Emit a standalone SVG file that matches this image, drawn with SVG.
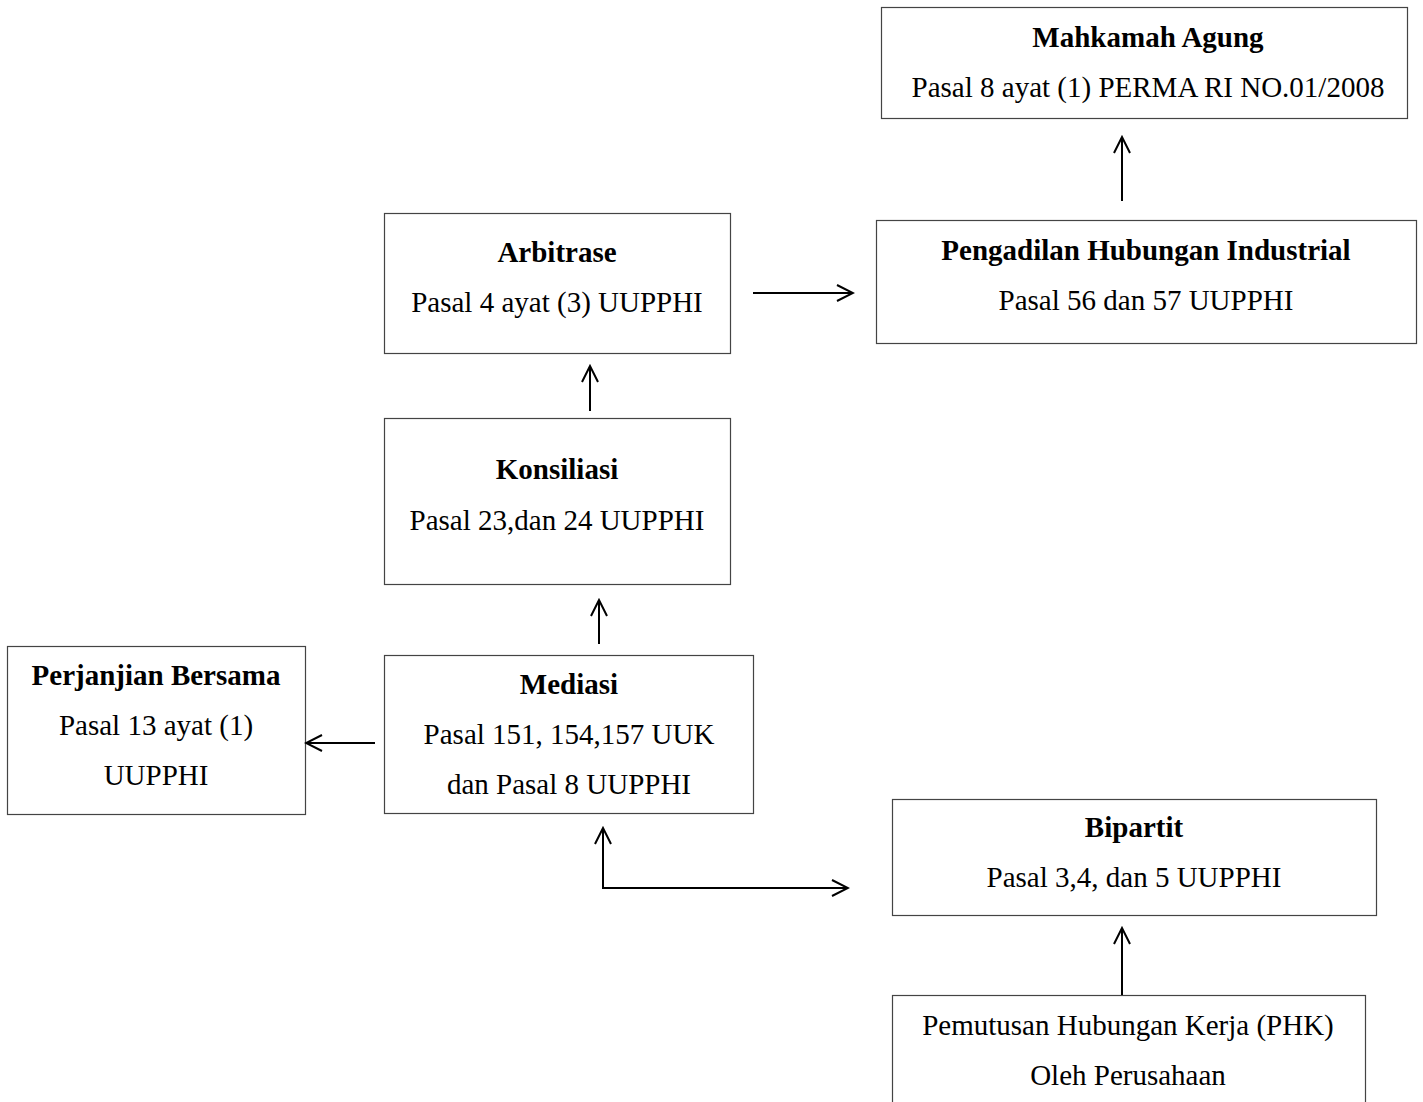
<svg xmlns="http://www.w3.org/2000/svg" width="1423" height="1102" viewBox="0 0 1423 1102">
<style>
.box{fill:#fff;stroke:#444;stroke-width:1.2}
text{font-family:"Liberation Serif","Times New Roman",serif;font-size:29px;fill:#000;text-anchor:middle}
.b{font-weight:bold}
.c{fill:none;stroke:#000;stroke-width:2}
</style>
<defs>
<marker id="ah" viewBox="0 0 20 20" refX="18" refY="10" markerWidth="20" markerHeight="20" markerUnits="userSpaceOnUse" orient="auto">
<path d="M2,2 L18,10 L2,18" fill="none" stroke="#000" stroke-width="2"/>
</marker>
</defs>
<rect width="1423" height="1102" fill="#fff"/>
<g id="mahkamah">
<rect class="box" x="881.5" y="7.5" width="526" height="111"/>
<text class="b" x="1148" y="47">Mahkamah Agung</text>
<text x="1148" y="97">Pasal 8 ayat (1) PERMA RI NO.01/2008</text>
</g>
<g id="pengadilan">
<rect class="box" x="876.5" y="220.5" width="540" height="123"/>
<text class="b" x="1146" y="260">Pengadilan Hubungan Industrial</text>
<text x="1146" y="310">Pasal 56 dan 57 UUPPHI</text>
</g>
<g id="arbitrase">
<rect class="box" x="384.5" y="213.5" width="346" height="140"/>
<text class="b" x="557" y="262">Arbitrase</text>
<text x="557" y="312">Pasal 4 ayat (3) UUPPHI</text>
</g>
<g id="konsiliasi">
<rect class="box" x="384.5" y="418.5" width="346" height="166"/>
<text class="b" x="557" y="479">Konsiliasi</text>
<text x="557" y="530">Pasal 23,dan 24 UUPPHI</text>
</g>
<g id="mediasi">
<rect class="box" x="384.5" y="655.5" width="369" height="158"/>
<text class="b" x="569" y="694">Mediasi</text>
<text x="569" y="744">Pasal 151, 154,157 UUK</text>
<text x="569" y="794">dan Pasal 8 UUPPHI</text>
</g>
<g id="perjanjian">
<rect class="box" x="7.5" y="646.5" width="298" height="168"/>
<text class="b" x="156" y="685">Perjanjian Bersama</text>
<text x="156" y="735">Pasal 13 ayat (1)</text>
<text x="156" y="785">UUPPHI</text>
</g>
<g id="bipartit">
<rect class="box" x="892.5" y="799.5" width="484" height="116"/>
<text class="b" x="1134" y="837">Bipartit</text>
<text x="1134" y="887">Pasal 3,4, dan 5 UUPPHI</text>
</g>
<g id="phk">
<rect class="box" x="892.5" y="995.5" width="473" height="120"/>
<text x="1128" y="1035">Pemutusan Hubungan Kerja (PHK)</text>
<text x="1128" y="1085">Oleh Perusahaan</text>
</g>
<g id="connectors">
<line class="c" x1="1122" y1="201" x2="1122" y2="137" marker-end="url(#ah)"/>
<line class="c" x1="753" y1="293" x2="853" y2="293" marker-end="url(#ah)"/>
<line class="c" x1="590" y1="411" x2="590" y2="366" marker-end="url(#ah)"/>
<line class="c" x1="599" y1="644" x2="599" y2="600" marker-end="url(#ah)"/>
<line class="c" x1="375" y1="743" x2="306" y2="743" marker-end="url(#ah)"/>
<line class="c" x1="603" y1="889" x2="603" y2="828" marker-end="url(#ah)"/>
<line class="c" x1="602" y1="888" x2="848" y2="888" marker-end="url(#ah)"/>
<line class="c" x1="1122" y1="995" x2="1122" y2="928" marker-end="url(#ah)"/>
</g>
</svg>
